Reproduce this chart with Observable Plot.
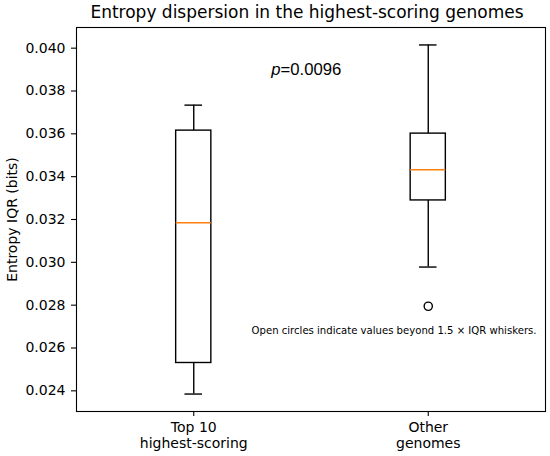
<!DOCTYPE html>
<html><head><meta charset="utf-8">
<script src="https://cdn.jsdelivr.net/npm/d3@7"></script>
<script src="https://cdn.jsdelivr.net/npm/@observablehq/plot@0.6"></script>
<style>body{margin:0;background:#fff} svg{display:block}</style>
</head><body><div id="chart"></div>
<script>
const categories = ["Top 10\nhighest-scoring", "Other\ngenomes"];
const whiskerLow = [0.02385, 0.02978];
const q1 = [0.02530, 0.03289];
const median = [0.03185, 0.03432];
const q3 = [0.03615, 0.03601];
const whiskerHigh = [0.03734, 0.04015];
const outlierGroup = [1];
const outlierValue = [0.02795];
const yTicks = [0.024, 0.026, 0.028, 0.030, 0.032, 0.034, 0.036, 0.038, 0.040];
const pValue = 0.0096;
const titleText = "Entropy dispersion in the highest-scoring genomes";
const yLabel = "Entropy IQR (bits)";
const noteText = "Open circles indicate values beyond 1.5 \u00d7 IQR whiskers.";

const boxes = categories.map((c, i) => ({pos: i + 1, lo: whiskerLow[i], q1: q1[i], med: median[i], q3: q3[i], hi: whiskerHigh[i]}));
const outliers = outlierGroup.map((g, i) => ({pos: g + 1, value: outlierValue[i]}));
const halfBox = 0.075, halfCap = 0.0375;
const allVals = whiskerLow.concat(whiskerHigh, outlierValue);
const vmin = d3.min(allVals), vmax = d3.max(allVals), pad = (vmax - vmin) * 0.05;

const W = 550, H = 456, ML = 76, MR = 5, MT = 27, MB = 45;
const font = "DejaVu Sans";
const plot = Plot.plot({
  width: W, height: H,
  marginLeft: ML, marginRight: MR, marginTop: MT, marginBottom: MB,
  style: {fontFamily: font, fontSize: "14px", color: "#000", background: "#fff"},
  x: {domain: [0.5, categories.length + 0.5]},
  y: {domain: [vmin - pad, vmax + pad]},
  marks: [
    Plot.axisY({ticks: yTicks, tickFormat: d3.format(".3f"), tickSize: 5, tickPadding: 6, label: null, stroke: "#000", strokeWidth: 1.1, fontSize: 14}),
    Plot.axisX({ticks: boxes.map(d => d.pos), tickFormat: d => categories[d - 1], tickSize: 5, tickPadding: 5, label: null, stroke: "#000", strokeWidth: 1.1, lineHeight: 1.1, fontSize: 14}),
    Plot.ruleX(boxes, {x: "pos", y1: "q3", y2: "hi", stroke: "#000", strokeWidth: 1.4}),
    Plot.ruleX(boxes, {x: "pos", y1: "lo", y2: "q1", stroke: "#000", strokeWidth: 1.4}),
    Plot.ruleY(boxes, {y: "hi", x1: d => d.pos - halfCap, x2: d => d.pos + halfCap, stroke: "#000", strokeWidth: 1.4}),
    Plot.ruleY(boxes, {y: "lo", x1: d => d.pos - halfCap, x2: d => d.pos + halfCap, stroke: "#000", strokeWidth: 1.4}),
    Plot.rect(boxes, {x1: d => d.pos - halfBox, x2: d => d.pos + halfBox, y1: "q1", y2: "q3", fill: "#fff", stroke: "#000", strokeWidth: 1.4}),
    Plot.ruleY(boxes, {y: "med", x1: d => d.pos - halfBox, x2: d => d.pos + halfBox, stroke: "#ff7f0e", strokeWidth: 1.4}),
    Plot.dot(outliers, {x: "pos", y: "value", r: 4.1, fill: "none", stroke: "#000", strokeWidth: 1.4}),
    Plot.frame({stroke: "#000", strokeWidth: 1.1}),
    Plot.text([titleText], {frameAnchor: "top", text: d => d, dx: -4, dy: -9.5, lineAnchor: "bottom", fontSize: 17, fill: "#000", fontFamily: font}),
    Plot.text([yLabel], {frameAnchor: "left", text: d => d, dx: -64, rotate: -90, lineAnchor: "middle", textAnchor: "middle", fontSize: 14, fill: "#000", fontFamily: font}),
    Plot.text(["p"], {frameAnchor: "top", text: d => d, dx: -30.5, dy: 47.6, lineAnchor: "bottom", textAnchor: "end", fontSize: 16.7, fontStyle: "italic", fill: "#000", fontFamily: "Liberation Sans"}),
    Plot.text([pValue], {frameAnchor: "top", text: d => "=" + d, dx: -30.5, dy: 47.6, lineAnchor: "bottom", textAnchor: "start", fontSize: 16.7, fill: "#000", fontFamily: "Liberation Sans"}),
    Plot.text([noteText], {frameAnchor: "bottom-right", text: d => d, dx: -9, dy: -80.7, lineAnchor: "middle", textAnchor: "end", fontSize: 10.1, fill: "#000", fontFamily: font})
  ]
});
document.getElementById("chart").appendChild(plot);
</script></body></html>
